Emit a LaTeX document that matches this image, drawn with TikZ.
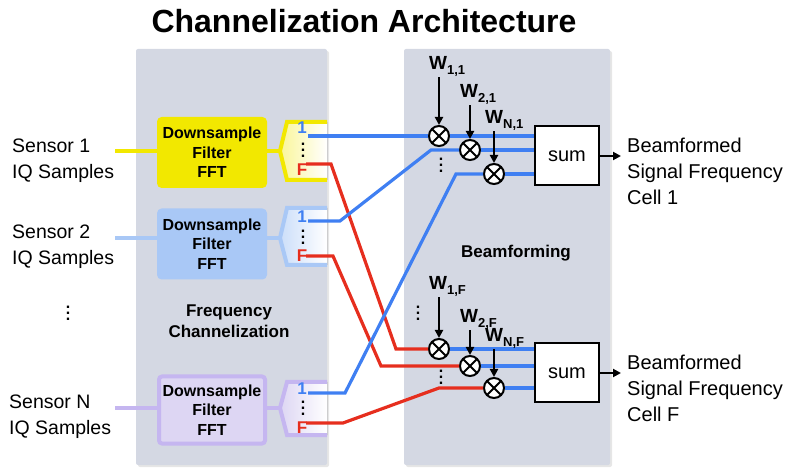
\documentclass[tikz,border=0pt]{standalone}
\usepackage{fontspec}
\setmainfont{Liberation Sans}
\usetikzlibrary{arrows.meta,positioning,calc,shadows}
\definecolor{PanelGray}{HTML}{D4D8E3}
\definecolor{SensYellow}{HTML}{F2E800}
\definecolor{SensBlue}{HTML}{A9C8F6}
\definecolor{SensPurple}{HTML}{C5B6F0}
\definecolor{SensLilac}{HTML}{DDD6F3}
\definecolor{WireBlue}{HTML}{3F7FF2}
\definecolor{WireRed}{HTML}{E62E1E}
% three stacked dots, a bit looser than \vdots
\newcommand{\vdts}{\vbox{\baselineskip=6pt\lineskiplimit=0pt\hbox{.}\hbox{.}\hbox{.}}}

\begin{document}
\begin{tikzpicture}[
    x=1pt, y=-1pt,
    font=\bfseries\fontsize{16}{19.5}\selectfont,
    panel/.style={fill=PanelGray, rounded corners=2pt, drop shadow={shadow xshift=2pt, shadow yshift=-2pt, opacity=.2}},
    dsp/.style={line width=4pt, rounded corners=3pt, align=center, minimum width=106pt, minimum height=67pt, inner sep=0pt},
    feed/.style={draw=#1, line width=4.5pt},
    port/.style={line width=4pt, line join=miter},
    portlbl/.style={inner sep=0pt, font=\bfseries\fontsize{17}{17}\selectfont},
    sensor/.style={font=\mdseries\fontsize{19.5}{26}\selectfont, align=left, anchor=north west, inner sep=0pt},
    outtxt/.style={font=\mdseries\fontsize{20}{26}\selectfont, align=left, anchor=north west, inner sep=0pt},
    chan/.style={inner sep=0pt, align=center, font=\bfseries\fontsize{17}{21}\selectfont},
    wire/.style={draw=#1, line width=3.2pt},
    mult/.style={circle, draw, line width=2pt, fill=white, minimum size=20pt, inner sep=0pt,
        path picture={\draw[line width=2pt] (path picture bounding box.south west) -- (path picture bounding box.north east)
                      (path picture bounding box.north west) -- (path picture bounding box.south east);}},
    wlbl/.style={anchor=base west, inner sep=0pt, font=\bfseries\fontsize{19}{19}\selectfont},
    warr/.style={line width=2pt, -{Triangle[length=8pt,width=8pt]}},
    sumbox/.style={draw, line width=2pt, fill=white, minimum width=64pt, minimum height=59pt, font=\mdseries\fontsize{20}{20}\selectfont},
    dots/.style={inner sep=0pt}
]
\useasboundingbox (0,0) rectangle (785,470);

% panels
\path[panel] (136,49) rectangle (327,465);
\path[panel] (404,49) rectangle (610,465);

\node[font=\bfseries\fontsize{32}{32}\selectfont] (title) at (364,21) {Channelization Architecture};

% sensors
\node[sensor] (sen1) at (12,139) {Sensor 1\\IQ Samples};
\node[sensor] (sen2) at (12,225) {Sensor 2\\IQ Samples};
\node[sensor] (senN) at (9,395) {Sensor N\\IQ Samples};
\node[dots] (sendots) at (68,313) {\vdts};

\node[dsp, draw=SensYellow, fill=SensYellow] (dsp1) at (212,152.5) {Downsample\\Filter\\FFT};
\node[dsp, draw=SensBlue, fill=SensBlue] (dsp2) at (212,244) {Downsample\\Filter\\FFT};
\node[dsp, draw=SensPurple, fill=SensLilac] (dspN) at (212,410) {Downsample\\Filter\\FFT};

\coordinate (in1) at (115,151);
\coordinate (in2) at (115,238);
\coordinate (inN) at (115,408);
\draw[feed=SensYellow] (in1) -- (in1 -| dsp1.west);
\draw[feed=SensBlue] (in2) -- (in2 -| dsp2.west);
\draw[feed=SensPurple] (inN) -- (inN -| dspN.west);

% FFT output brackets
\foreach \s/\t/\m/\b/\col/\tint in {1/122/151/180/SensYellow/SensYellow!40,
                                     2/208/238/265/SensBlue/SensBlue!60,
                                     N/382/408/435/SensPurple/SensLilac}{
  \coordinate (tip\s) at (280,\m);
  \fill[left color=\tint, right color=white] (327,\t) -- (287,\t) -- (tip\s) -- (287,\b) -- (327,\b) -- cycle;
  \draw[port, draw=\col] (327,\t) -- (287,\t) -- (tip\s) -- (287,\b) -- (327,\b);
}
\draw[feed=SensYellow] (tip1 -| dsp1.east) -- (tip1);
\draw[feed=SensBlue] (tip2 -| dsp2.east) -- (tip2);
\draw[feed=SensPurple] (tipN -| dspN.east) -- (tipN);

\node[portlbl, text=WireBlue] (one1) at (302,128) {1};
\node[portlbl, text=WireRed] (eff1) at (302,170) {F};
\node[dots] (pd1) at (303,150) {\vdts};
\node[portlbl, text=WireBlue] (one2) at (302,217) {1};
\node[portlbl, text=WireRed] (eff2) at (302,256) {F};
\node[dots] (pd2) at (303,237) {\vdts};
\node[portlbl, text=WireBlue] (oneN) at (302,389) {1};
\node[portlbl, text=WireRed] (effN) at (302,428) {F};
\node[dots] (pdN) at (303,408) {\vdts};

\coordinate (o1) at (308,136);
\coordinate (r1) at (306,164);
\coordinate (o2) at (308,221);
\coordinate (r2) at (306,256);
\coordinate (oN) at (308,393);
\coordinate (rN) at (306,423);

% beamformers
\node[mult] (m11) at (439,136) {};
\node[mult] (m21) at (470,150) {};
\node[mult] (m31) at (494,174) {};
\node[mult] (m1F) at (439,349) {};
\node[mult] (m2F) at (470,366) {};
\node[mult] (m3F) at (494,388) {};

\node[sumbox] (sum1) at (567,156) {sum};
\node[sumbox] (sumF) at (567,373) {sum};

\draw[wire=WireRed] (r1) -- ++(25,0) -- ([xshift=-32pt]m1F.west) -- (m1F.west);
\draw[wire=WireRed] (r2) -- ++(27,0) -- ([xshift=-78pt]m2F.west) -- (m2F.west);
\draw[wire=WireRed] (rN) -- ++(37,0) -- ([xshift=-44pt]m3F.west) -- (m3F.west);
\draw[wire=WireBlue] (o1) -- (m11.west);
\draw[wire=WireBlue] (o2) -- ++(32,0) -- ([xshift=-28pt]m21.west) -- (m21.west);
\draw[wire=WireBlue] (oN) -- ++(37,0) -- ([xshift=-27pt]m31.west) -- (m31.west);

\foreach \m/\s in {m11/sum1,m21/sum1,m31/sum1,m1F/sumF,m2F/sumF,m3F/sumF}
  \draw[wire=WireBlue] (\m.east) -- (\m.east -| \s.west);

% weights
\node[wlbl] (w11) at (429,70) {W\raisebox{-5pt}{\fontsize{13}{13}\selectfont 1,1}};
\node[wlbl] (w21) at (460,98) {W\raisebox{-5pt}{\fontsize{13}{13}\selectfont 2,1}};
\node[wlbl] (w31) at (485,124) {W\raisebox{-5pt}{\fontsize{13}{13}\selectfont N,1}};
\node[wlbl] (w1F) at (429,290) {W\raisebox{-5pt}{\fontsize{13}{13}\selectfont 1,F}};
\node[wlbl] (w2F) at (460,323) {W\raisebox{-5pt}{\fontsize{13}{13}\selectfont 2,F}};
\node[wlbl] (w3F) at (485,342) {W\raisebox{-5pt}{\fontsize{13}{13}\selectfont N,F}};
\foreach \k in {11,21,31,1F,2F,3F}
  \draw[warr] (m\k |- w\k.south) -- (m\k.north);

\node[dots] (bd1) at (441,165) {\vdts};
\node[dots] (bd2) at (418,313) {\vdts};
\node[dots] (bd3) at (441,377) {\vdts};

\coordinate (out1) at (621,156);
\coordinate (outF) at (621,373);
\draw[warr] (sum1.east) -- (out1);
\draw[warr] (sumF.east) -- (outF);
\node[outtxt] (cell1) at (627,138) {Beamformed\\Signal Frequency\\Cell 1};
\node[outtxt] (cellF) at (627,355) {Beamformed\\Signal Frequency\\Cell F};

\node[chan] (chz) at (229,321) {Frequency\\Channelization};
\node[chan] (bf) at (516,253) {Beamforming};
\end{tikzpicture}
\end{document}
